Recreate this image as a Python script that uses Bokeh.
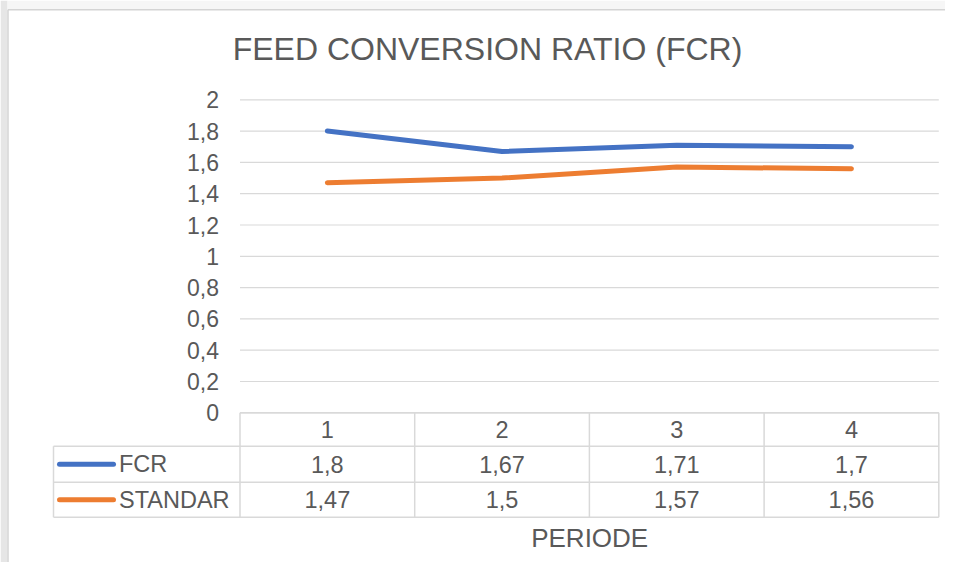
from bokeh.plotting import figure
from bokeh.models import Range1d
from bokeh.core.properties import value
from bokeh.embed import file_html
from bokeh.resources import INLINE

# ---- data ----
title_text = "FEED CONVERSION RATIO (FCR)"
x_title = "PERIODE"
periods = ["1", "2", "3", "4"]
series_names = ["FCR", "STANDAR"]
fcr = [1.8, 1.67, 1.71, 1.7]
standar = [1.47, 1.5, 1.57, 1.56]
y_ticks = [0, 0.2, 0.4, 0.6, 0.8, 1.0, 1.2, 1.4, 1.6, 1.8, 2.0]
y_tick_labels = ["0", "0,2", "0,4", "0,6", "0,8", "1", "1,2", "1,4", "1,6", "1,8", "2"]
colors = ["#4472C4", "#ED7D31"]

def fmt(v):
    return ("%g" % v).replace(".", ",")

# ---- layout constants (pixel -> data mapping) ----
W, H = 945, 562
PX0, PXU = 239.5, 174.7      # pixel x of x=0.5, pixels per unit
PY0, PYU = 412.3, 156.5      # pixel y of y=0, pixels per unit
def dx(px):
    return 0.5 + (px - PX0) / PXU
def dy(py):
    return (PY0 - py) / PYU

FONT = value("Liberation Sans")
TXT = "#595959"
GRID = "#d9d9d9"
X0, X1 = dx(0), dx(W)
Y0, Y1 = dy(H), dy(0)
xs = [i + 1 for i in range(len(periods))]
left_edge = dx(53)
row_lines = [0.0, dy(445.7), dy(481.7), dy(516.7)]

p = figure(width=W, height=H, output_backend="svg", toolbar_location=None,
           x_range=Range1d(X0, X1), y_range=Range1d(Y0, Y1), min_border=0)
p.axis.visible = False
p.grid.visible = False
p.outline_line_color = None
p.background_fill_color = "white"
p.border_fill_color = "white"

# surrounding window strips and chart area border
p.quad(left=[X0], right=[dx(7)], bottom=[Y0], top=[Y1], fill_color="#e6e6e6", line_color=None)
p.quad(left=[dx(7)], right=[X1], bottom=[dy(8.5)], top=[Y1], fill_color="#f6f6f6", line_color=None)
p.segment(x0=[dx(7.5), dx(7.5)], y0=[Y0, dy(9.3)], x1=[dx(7.5), X1], y1=[dy(9.3), dy(9.3)],
          line_color="#d4d4d4", line_width=1.5)

# horizontal gridlines
p.segment(x0=[0.5] * len(y_ticks), y0=y_ticks, x1=[4.5] * len(y_ticks), y1=y_ticks,
          line_color=GRID, line_width=1.2)

# y tick labels
p.text(x=[dx(218.5)] * len(y_ticks), y=y_ticks, text=y_tick_labels, text_align="right",
       text_baseline="middle", text_font=FONT, text_font_size="23px", text_color=TXT)

# series lines
for vals, c in zip([fcr, standar], colors):
    p.line(x=xs, y=vals, line_color=c, line_width=5, line_cap="round", line_join="round")

# data table: grid lines
hl_x0 = [0.5] + [left_edge] * 3
p.segment(x0=hl_x0, y0=row_lines, x1=[4.5] * 4, y1=row_lines, line_color=GRID, line_width=1.5)
vx = [0.5, 1.5, 2.5, 3.5, 4.5]
p.segment(x0=vx, y0=[0.0] * 5, x1=vx, y1=[row_lines[-1]] * 5, line_color=GRID, line_width=1.5)
p.segment(x0=[left_edge], y0=[row_lines[1]], x1=[left_edge], y1=[row_lines[-1]],
          line_color=GRID, line_width=1.5)

# header row
hy = (row_lines[0] + row_lines[1]) / 2
p.text(x=xs, y=[hy] * 4, text=periods, text_align="center", text_baseline="middle",
       text_font=FONT, text_font_size="23.5px", text_color=TXT)

# series rows
for r, (name, vals, c) in enumerate(zip(series_names, [fcr, standar], colors)):
    ry = (row_lines[r + 1] + row_lines[r + 2]) / 2
    p.text(x=xs, y=[ry] * 4, text=[fmt(v) for v in vals], text_align="center",
           text_baseline="middle", text_font=FONT, text_font_size="23.5px", text_color=TXT)
    p.segment(x0=[dx(59)], y0=[ry], x1=[dx(113)], y1=[ry], line_color=c, line_width=5,
              line_cap="round")
    p.text(x=[dx(118.5)], y=[ry], text=[name], text_align="left", text_baseline="middle",
           text_font=FONT, text_font_size="23.5px", text_color=TXT)

# titles
p.text(x=[dx(487)], y=[dy(48)], text=[title_text], text_align="center", text_baseline="middle",
       text_font=FONT, text_font_size="32px", text_color=TXT)
p.text(x=[dx(589.2)], y=[dy(537.5)], text=[x_title], text_align="center", text_baseline="middle",
       text_font=FONT, text_font_size="26px", text_color=TXT)

open("out.html", "w").write(file_html(p, INLINE))
